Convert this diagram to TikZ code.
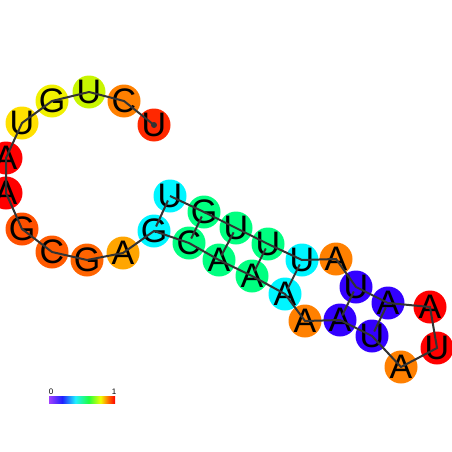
\documentclass[tikz,border=0pt]{standalone}
\usepackage{fontspec}
\setmainfont{Liberation Sans}
\definecolor{cU1}{HTML}{FF2800}
\definecolor{cC2}{HTML}{FF8000}
\definecolor{cU3}{HTML}{C8F500}
\definecolor{cG4}{HTML}{F0F000}
\definecolor{cU5}{HTML}{FFE000}
\definecolor{cred}{HTML}{FF0000}
\definecolor{cG8}{HTML}{FF5000}
\definecolor{cC9}{HTML}{FF5A00}
\definecolor{cG10}{HTML}{FF6400}
\definecolor{cA11}{HTML}{FFA500}
\definecolor{ccyan}{HTML}{00F5FF}
\definecolor{cgreen}{HTML}{00FF80}
\definecolor{corange}{HTML}{FF8000}
\definecolor{cblue}{HTML}{3300FF}
\definecolor{bbline}{HTML}{333333}
\definecolor{cb0}{HTML}{A040FF}
\definecolor{cb1}{HTML}{2020FF}
\definecolor{cb2}{HTML}{20F0FF}
\definecolor{cb3}{HTML}{20FF40}
\definecolor{cb4}{HTML}{F0FF00}
\definecolor{cb5}{HTML}{FF8000}
\definecolor{cb6}{HTML}{FF0000}
\pgfdeclarehorizontalshading{rainbowbar}{100bp}{color(0bp)=(cb0); color(25bp)=(cb0); color(35bp)=(cb1); color(45bp)=(cb2); color(55bp)=(cb3); color(64bp)=(cb4); color(69bp)=(cb5); color(75bp)=(cb6); color(100bp)=(cb6)}
\begin{document}
\begin{tikzpicture}[x=1pt,y=-1pt,
  nt/.style={circle, minimum size=33pt, inner sep=0pt, font=\fontsize{34}{34}\selectfont},
  bb/.style={draw=bbline, line width=2pt},
  bp/.style={draw=bbline, line width=2pt, shorten <=5pt, shorten >=5pt},
  cbl/.style={font=\fontsize{8}{8}\selectfont, inner sep=0pt}]
\useasboundingbox (0,0) rectangle (452,452);
\node[nt, fill=cU1] (n1) at (154,125) {\makebox[0pt]{U}};
\node[nt, fill=cC2] (n2) at (124,101) {\makebox[0pt]{C}};
\node[nt, fill=cU3] (n3) at (89,92) {\makebox[0pt]{U}};
\node[nt, fill=cG4] (n4) at (52,101) {\makebox[0pt]{G}};
\node[nt, fill=cU5] (n5) at (22,123) {\makebox[0pt]{U}};
\node[nt, fill=cred] (n6) at (6,158) {\makebox[0pt]{A}};
\node[nt, fill=cred] (n7) at (6,193) {\makebox[0pt]{A}};
\node[nt, fill=cG8] (n8) at (22,229) {\makebox[0pt]{G}};
\node[nt, fill=cC9] (n9) at (52,252) {\makebox[0pt]{C}};
\node[nt, fill=cG10] (n10) at (87,260) {\makebox[0pt]{G}};
\node[nt, fill=cA11] (n11) at (123,253) {\makebox[0pt]{A}};
\node[nt, fill=ccyan] (n12) at (154,231) {\makebox[0pt]{G}};
\node[nt, fill=cgreen] (n13) at (189,243) {\makebox[0pt]{C}};
\node[nt, fill=cgreen] (n14) at (219,260) {\makebox[0pt]{A}};
\node[nt, fill=cgreen] (n15) at (252,276) {\makebox[0pt]{A}};
\node[nt, fill=ccyan] (n16) at (285,294) {\makebox[0pt]{A}};
\node[nt, fill=corange] (n17) at (305,321) {\makebox[0pt]{A}};
\node[nt, fill=cblue] (n18) at (340,320) {\makebox[0pt]{A}};
\node[nt, fill=cblue] (n19) at (372,336) {\makebox[0pt]{U}};
\node[nt, fill=corange] (n20) at (401,367) {\makebox[0pt]{A}};
\node[nt, fill=cred] (n21) at (437,348) {\makebox[0pt]{U}};
\node[nt, fill=cred] (n22) at (430,307) {\makebox[0pt]{A}};
\node[nt, fill=cblue] (n23) at (388,303) {\makebox[0pt]{A}};
\node[nt, fill=cblue] (n24) at (356,287) {\makebox[0pt]{U}};
\node[nt, fill=corange] (n25) at (336,259) {\makebox[0pt]{A}};
\node[nt, fill=ccyan] (n26) at (302,260) {\makebox[0pt]{U}};
\node[nt, fill=cgreen] (n27) at (268,244) {\makebox[0pt]{U}};
\node[nt, fill=cgreen] (n28) at (236,228) {\makebox[0pt]{U}};
\node[nt, fill=cgreen] (n29) at (204,212) {\makebox[0pt]{G}};
\node[nt, fill=ccyan] (n30) at (170,196) {\makebox[0pt]{U}};
% backbone
\draw[bb] (n1.center) -- (n2.center) -- (n3.center) -- (n4.center) -- (n5.center) -- (n6.center) -- (n7.center) -- (n8.center) -- (n9.center) -- (n10.center) -- (n11.center) -- (n12.center) -- (n13.center) -- (n14.center) -- (n15.center) -- (n16.center) -- (n17.center) -- (n18.center) -- (n19.center) -- (n20.center) -- (n21.center) -- (n22.center) -- (n23.center) -- (n24.center) -- (n25.center) -- (n26.center) -- (n27.center) -- (n28.center) -- (n29.center) -- (n30.center);
\fill[bbline] (n1.center) circle (3pt);
% base pairs
\draw[bp] (n12.center) -- (n30.center);
\draw[bp] (n13.center) -- (n29.center);
\draw[bp] (n14.center) -- (n28.center);
\draw[bp] (n15.center) -- (n27.center);
\draw[bp] (n16.center) -- (n26.center);
\draw[bp] (n18.center) -- (n24.center);
\draw[bp] (n19.center) -- (n23.center);
% colour bar
\shade[shading=rainbowbar] (49,396) rectangle (115,403);
\node[cbl] (lab0) at (51,392) {0};
\node[cbl] (lab1) at (114,392) {1};
\end{tikzpicture}
\end{document}
